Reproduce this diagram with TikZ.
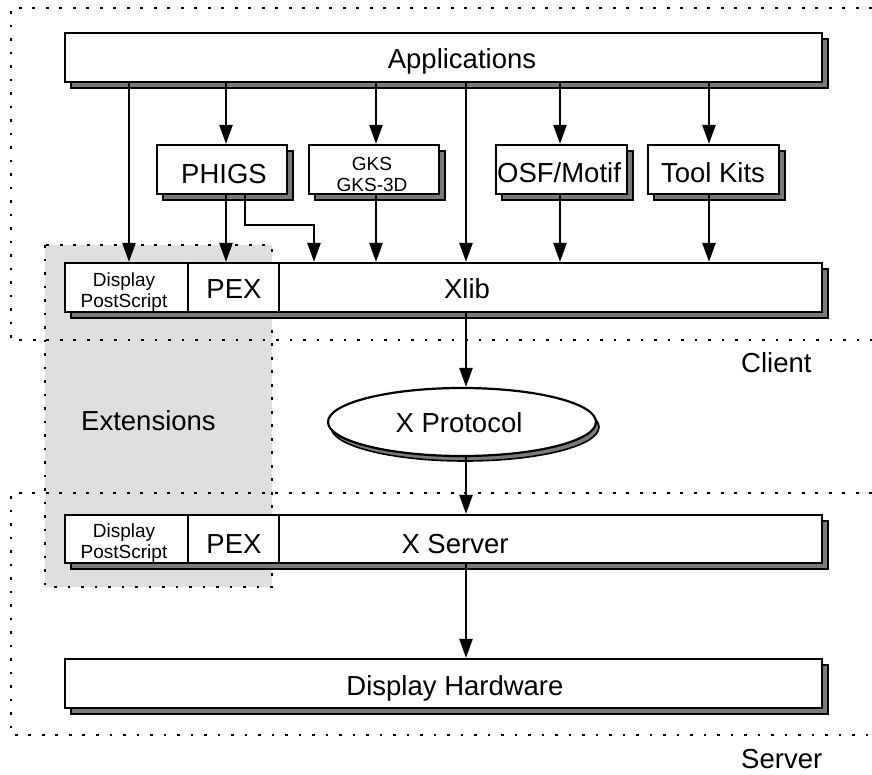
\documentclass[tikz,border=0pt]{standalone}
\usepackage{fontspec}
\setmainfont{Liberation Sans}
\usetikzlibrary{arrows.meta,shapes.geometric,shadows}
\definecolor{shadowgray}{HTML}{7A7A7A}
\definecolor{extgray}{HTML}{DEDEDE}
\tikzset{
  box/.style={draw, line width=2.2pt, fill=white, inner sep=0pt,
    general shadow={shadow xshift=6pt, shadow yshift=-6pt, fill=shadowgray, draw=black, line width=1.6pt}},
  lbl/.style={inner sep=0pt, anchor=base, font=\fontsize{27.5pt}{32pt}\selectfont},
  slbl/.style={inner sep=0pt, anchor=base, font=\fontsize{19pt}{22pt}\selectfont},
  arr/.style={-{Triangle[length=19pt,width=13pt]}, line width=2.4pt},
  dotline/.style={line width=2.6pt, dash pattern=on 2.6pt off 10.9pt},
  divider/.style={line width=2.2pt}
}
\begin{document}
\begin{tikzpicture}[x=1pt,y=-1pt]
\useasboundingbox (0,0) rectangle (872,774);

% Extensions region
\fill[extgray] (45,245) rectangle (272,587);
\draw[dotline] (45,245) rectangle (272,587);
\node[lbl, anchor=base west] (ext) at (81,430) {Extensions};

% Client / server regions
\draw[dotline] (872,8) -- (11,8) -- (11,340) -- (872,340);
\draw[dotline] (872,493) -- (11,493) -- (11,735) -- (872,735);
\node[lbl, anchor=base west] (client) at (741,372) {Client};
\node[lbl, anchor=base west] (server) at (741,768) {Server};

% Boxes
\node[box, minimum width=757pt, minimum height=49pt] (app) at (443.5,57.5) {};
\node[lbl] (applbl) at (462,68) {Applications};

\node[box, minimum width=130pt, minimum height=49pt] (phigs) at (222,169.5) {};
\node[lbl] (phigslbl) at (224,183) {PHIGS};
\node[box, minimum width=130pt, minimum height=49pt] (gks) at (374,169.5) {};
\node[slbl] (gkslbl) at (372,170) {GKS};
\node[slbl] (gks3dlbl) at (372,191) {GKS-3D};
\node[box, minimum width=131pt, minimum height=49pt] (osf) at (561.5,169.5) {};
\node[lbl] (osflbl) at (559,182) {OSF/Motif};
\node[box, minimum width=131pt, minimum height=49pt] (tk) at (713.5,169.5) {};
\node[lbl] (tklbl) at (713,182) {Tool Kits};

\node[box, minimum width=757pt, minimum height=49pt] (xlib) at (443.5,287.5) {};
\draw[divider] (xlib.north -| 188,0) -- (xlib.south -| 188,0);
\draw[divider] (xlib.north -| 279,0) -- (xlib.south -| 279,0);
\node[slbl] (dps1a) at (124,286) {Display};
\node[slbl] (dps1b) at (124,307) {PostScript};
\node[lbl] (pex1) at (234,298) {PEX};
\node[lbl] (xliblbl) at (467,298) {Xlib};

\node[ellipse, draw, line width=2.2pt, fill=white, inner sep=0pt,
  minimum width=268pt, minimum height=68pt,
  general shadow={shadow xshift=3pt, shadow yshift=-5pt, fill=shadowgray, draw=black, line width=1.6pt}] (xp) at (462,422) {};
\node[lbl] (xplbl) at (459,432) {X Protocol};

\node[box, minimum width=757pt, minimum height=48pt] (xsrv) at (443.5,539) {};
\draw[divider] (xsrv.north -| 188,0) -- (xsrv.south -| 188,0);
\draw[divider] (xsrv.north -| 279,0) -- (xsrv.south -| 279,0);
\node[slbl] (dps2a) at (124,537) {Display};
\node[slbl] (dps2b) at (124,558) {PostScript};
\node[lbl] (pex2) at (234,553) {PEX};
\node[lbl] (xsrvlbl) at (455,553) {X Server};

\node[box, minimum width=757pt, minimum height=49pt] (hw) at (443.5,683.5) {};
\node[lbl] (hwlbl) at (455,695) {Display Hardware};

% Connector coordinates
\coordinate (c1) at (129,0);
\coordinate (c2) at (226,0);
\coordinate (c3) at (376,0);
\coordinate (c4) at (466,0);
\coordinate (c5) at (560,0);
\coordinate (c6) at (709,0);
\coordinate (b1) at (245,225);
\coordinate (b2) at (314,225);

% Arrows
\draw[arr] (app.south -| c1) -- (xlib.north -| c1);
\draw[arr] (app.south -| c2) -- (phigs.north -| c2);
\draw[arr] (app.south -| c3) -- (gks.north -| c3);
\draw[arr] (app.south -| c4) -- (xlib.north -| c4);
\draw[arr] (app.south -| c5) -- (osf.north -| c5);
\draw[arr] (app.south -| c6) -- (tk.north -| c6);

\draw[arr] (phigs.south -| c2) -- (xlib.north -| c2);
\draw[arr] (phigs.south -| b1) -- (b1) -- (b2) -- (xlib.north -| b2);
\draw[arr] (gks.south -| c3) -- (xlib.north -| c3);
\draw[arr] (osf.south -| c5) -- (xlib.north -| c5);
\draw[arr] (tk.south -| c6) -- (xlib.north -| c6);

\draw[arr] (xlib.south -| c4) -- (xp.north -| c4);
\draw[arr] (xp.south -| c4) -- (xsrv.north -| c4);
\draw[arr] (xsrv.south -| c4) -- (hw.north -| c4);
\end{tikzpicture}
\end{document}
